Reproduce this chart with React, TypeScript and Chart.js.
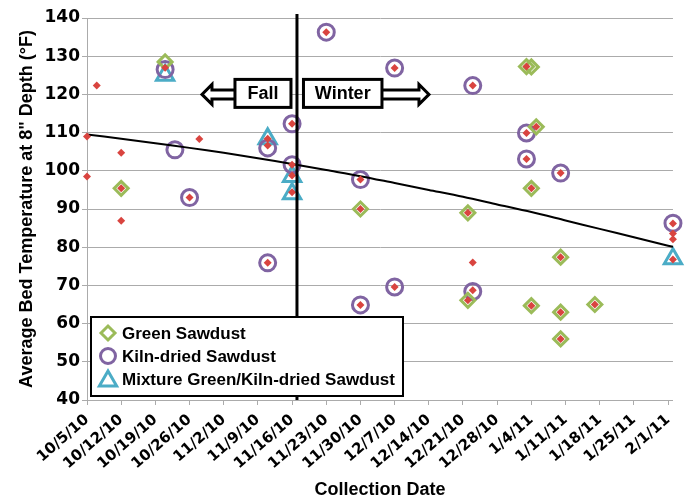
import { useEffect, useRef } from "react";
import { Chart, registerables } from "chart.js";

Chart.register(...registerables);

// ---------- data ----------
const TICK_LABELS = [
  "10/5/10", "10/12/10", "10/19/10", "10/26/10", "11/2/10", "11/9/10",
  "11/16/10", "11/23/10", "11/30/10", "12/7/10", "12/14/10", "12/21/10",
  "12/28/10", "1/4/11", "1/11/11", "1/18/11", "1/25/11", "2/1/11",
];
const AXIS_START = "10/5/10";
const AXIS_END = "2/2/11";
const SEASON_SPLIT = "11/17/10";
const SEASON_LABEL_TEMP = 120;

const GREEN_DATES = [
  "10/12/10", "10/21/10", "11/30/10", "12/22/10", "12/22/10", "1/3/11", "1/4/11",
  "1/5/11", "1/4/11", "1/10/11", "1/4/11", "1/10/11", "1/10/11", "1/17/11",
];
const GREEN_TEMPS = [95.4, 128.5, 90.0, 89.0, 66.1, 127.3, 127.2, 111.5, 95.4, 77.4, 64.7, 63.0, 56.0, 65.0];

const KILN_DATES = [
  "10/21/10", "10/23/10", "10/26/10", "11/11/10", "11/11/10", "11/16/10", "11/16/10",
  "11/23/10", "11/30/10", "11/30/10", "12/7/10", "12/7/10", "12/23/10", "12/23/10",
  "1/3/11", "1/3/11", "1/10/11", "2/2/11",
];
const KILN_TEMPS = [126.5, 105.5, 93.0, 106.0, 75.9, 112.3, 101.6, 136.3, 97.7, 64.9, 126.9, 69.6, 122.3, 68.4, 109.9, 103.1, 99.4, 86.3];

const MIX_DATES = ["10/21/10", "11/11/10", "11/16/10", "11/16/10", "2/2/11"];
const MIX_TEMPS = [125.0, 108.4, 98.5, 94.0, 77.0];

const ALL_DATES = [
  "10/5/10", "10/5/10", "10/7/10", "10/12/10", "10/12/10", "10/12/10", "10/21/10",
  "10/26/10", "10/28/10", "11/11/10", "11/11/10", "11/11/10", "11/16/10", "11/16/10",
  "11/16/10", "11/16/10", "11/23/10", "11/30/10", "11/30/10", "11/30/10", "12/7/10",
  "12/7/10", "12/22/10", "12/22/10", "12/23/10", "12/23/10", "12/23/10", "1/3/11",
  "1/3/11", "1/3/11", "1/4/11", "1/4/11", "1/5/11", "1/10/11", "1/10/11", "1/10/11",
  "1/10/11", "1/17/11", "2/2/11", "2/2/11", "2/2/11", "2/2/11",
];
const ALL_TEMPS = [
  109.0, 98.5, 122.3, 104.7, 95.4, 86.9, 127.0,
  93.0, 108.3, 108.4, 106.6, 75.9, 112.3, 101.6,
  98.8, 94.4, 136.3, 97.7, 90.0, 64.9, 126.9,
  69.6, 89.0, 66.1, 122.3, 76.0, 68.7, 127.3,
  109.9, 103.1, 95.4, 64.7, 111.5, 99.4, 77.4, 63.0,
  56.0, 65.0, 86.2, 83.6, 82.1, 76.8,
];

const TREND_DATES = [...TICK_LABELS, "2/2/11"];
const TREND_TEMPS = [
  109.5, 108.4, 107.2, 106.0, 104.7, 103.3, 101.8, 100.2, 98.6, 96.8,
  95.0, 93.2, 91.2, 89.2, 87.0, 84.8, 82.6, 80.4, 80.1,
];

const LEGEND_LABELS = ["Green Sawdust", "Kiln-dried Sawdust", "Mixture Green/Kiln-dried Sawdust"];

// ---------- helpers ----------
const FONT = "'Liberation Sans', Arial, Helvetica, sans-serif";
const WIDE_FONT = "'DejaVu Sans', 'Liberation Sans', sans-serif";
const GREEN = "#9BBB59";
const PURPLE = "#8064A2";
const BLUE = "#4BACC6";
const RED = "#D9443F";
const GRID = "#ABABAB";

const parseDate = (s: string) => {
  const [m, d, y] = s.split("/").map(Number);
  return Date.UTC(2000 + y, m - 1, d);
};
const toDay = (s: string) => (parseDate(s) - parseDate(AXIS_START)) / 86400000;
const pts = (dates: string[], temps: number[]) => dates.map((d, i) => ({ x: toDay(d), y: temps[i] }));

function drawMarker(ctx: CanvasRenderingContext2D, kind: string, x: number, y: number) {
  ctx.beginPath();
  if (kind === "diamond") {
    const r = 7;
    ctx.moveTo(x - r, y); ctx.lineTo(x, y - r); ctx.lineTo(x + r, y); ctx.lineTo(x, y + r); ctx.closePath();
    ctx.strokeStyle = GREEN;
  } else if (kind === "circle") {
    ctx.arc(x, y, 7.5, 0, Math.PI * 2);
    ctx.strokeStyle = PURPLE;
  } else {
    const r = 10;
    ctx.moveTo(x, y - r); ctx.lineTo(x + r * 0.866, y + r * 0.5); ctx.lineTo(x - r * 0.866, y + r * 0.5); ctx.closePath();
    ctx.strokeStyle = BLUE;
  }
  ctx.lineWidth = 3;
  ctx.lineJoin = "miter";
  ctx.stroke();
}

const overlayPlugin = {
  id: "seasonOverlay",
  afterDraw(chart: any) {
    const { ctx, chartArea, scales } = chart;
    const xs = scales.x;
    const ys = scales.y;
    const lineX = xs.getPixelForValue(toDay(SEASON_SPLIT));
    const cy = ys.getPixelForValue(SEASON_LABEL_TEMP);
    ctx.save();

    // season divider
    ctx.strokeStyle = "#000";
    ctx.lineWidth = 3;
    ctx.beginPath();
    ctx.moveTo(lineX, chartArea.top - 4);
    ctx.lineTo(lineX, chartArea.bottom);
    ctx.stroke();

    // boxes + arrows
    const boxTop = cy - 15;
    const boxBot = cy + 13;
    const fall = { x0: lineX - 62, x1: lineX - 6 };
    const winter = { x0: lineX + 6.5, x1: lineX + 85 };
    const sh = 4.5;
    const hh = 10;
    ctx.lineJoin = "miter";
    ctx.lineWidth = 3;
    ctx.fillStyle = "#fff";
    // left arrow
    ctx.beginPath();
    ctx.moveTo(fall.x0, cy - sh);
    ctx.lineTo(fall.x0 - 23, cy - sh);
    ctx.lineTo(fall.x0 - 23, cy - hh);
    ctx.lineTo(fall.x0 - 33, cy);
    ctx.lineTo(fall.x0 - 23, cy + hh);
    ctx.lineTo(fall.x0 - 23, cy + sh);
    ctx.lineTo(fall.x0, cy + sh);
    ctx.fill();
    ctx.stroke();
    // right arrow
    ctx.beginPath();
    ctx.moveTo(winter.x1, cy - sh);
    ctx.lineTo(winter.x1 + 37, cy - sh);
    ctx.lineTo(winter.x1 + 37, cy - hh);
    ctx.lineTo(winter.x1 + 47, cy);
    ctx.lineTo(winter.x1 + 37, cy + hh);
    ctx.lineTo(winter.x1 + 37, cy + sh);
    ctx.lineTo(winter.x1, cy + sh);
    ctx.fill();
    ctx.stroke();
    for (const b of [fall, winter]) {
      ctx.fillStyle = "#fff";
      ctx.fillRect(b.x0, boxTop, b.x1 - b.x0, boxBot - boxTop);
      ctx.strokeRect(b.x0, boxTop, b.x1 - b.x0, boxBot - boxTop);
    }
    ctx.fillStyle = "#000";
    ctx.font = `bold 18px ${FONT}`;
    ctx.textAlign = "center";
    ctx.textBaseline = "middle";
    ctx.fillText("Fall", (fall.x0 + fall.x1) / 2, (boxTop + boxBot) / 2 + 1);
    ctx.fillText("Winter", (winter.x0 + winter.x1) / 2, (boxTop + boxBot) / 2 + 1);

    // legend
    const lx = chartArea.left + 4;
    const lb = chartArea.bottom - 4;
    const lw = 312;
    const lh = 79;
    const lt = lb - lh;
    ctx.fillStyle = "#fff";
    ctx.fillRect(lx, lt, lw, lh);
    ctx.strokeStyle = "#000";
    ctx.lineWidth = 2;
    ctx.strokeRect(lx, lt, lw, lh);
    const kinds = ["diamond", "circle", "triangle"];
    ctx.font = `bold 17px ${FONT}`;
    ctx.textAlign = "left";
    ctx.textBaseline = "middle";
    LEGEND_LABELS.forEach((label, i) => {
      const ry = lt + 16 + i * 23;
      drawMarker(ctx, kinds[i], lx + 17, ry + (i === 2 ? 2 : 0));
      ctx.fillStyle = "#000";
      ctx.fillText(label, lx + 31, ry + 1);
    });
    ctx.restore();
  },
};

export default function App() {
  const ref = useRef<HTMLCanvasElement | null>(null);

  useEffect(() => {
    if (!ref.current) return;
    const tickDays = TICK_LABELS.map(toDay);
    const chart = new Chart(ref.current, {
      type: "scatter",
      data: {
        datasets: [
          {
            label: "All",
            data: pts(ALL_DATES, ALL_TEMPS),
            pointStyle: "rectRot",
            pointRadius: 4,
            backgroundColor: RED,
            borderColor: RED,
            borderWidth: 0,
            order: 0,
            clip: false,
          },
          {
            label: "Trend",
            data: pts(TREND_DATES, TREND_TEMPS),
            showLine: true,
            pointRadius: 0,
            borderColor: "#000",
            borderWidth: 2,
            tension: 0.3,
            order: 1,
            clip: false,
          },
          {
            label: LEGEND_LABELS[0],
            data: pts(GREEN_DATES, GREEN_TEMPS),
            pointStyle: "rectRot",
            pointRadius: 7,
            borderWidth: 3,
            borderColor: GREEN,
            backgroundColor: "rgba(0,0,0,0)",
            order: 2,
            clip: false,
          },
          {
            label: LEGEND_LABELS[1],
            data: pts(KILN_DATES, KILN_TEMPS),
            pointStyle: "circle",
            pointRadius: 8,
            borderWidth: 3,
            borderColor: PURPLE,
            backgroundColor: "rgba(0,0,0,0)",
            order: 3,
            clip: false,
          },
          {
            label: LEGEND_LABELS[2],
            data: pts(MIX_DATES, MIX_TEMPS),
            pointStyle: "triangle",
            pointRadius: 10,
            borderWidth: 3,
            borderColor: BLUE,
            backgroundColor: "rgba(0,0,0,0)",
            order: 4,
            clip: false,
          },
        ],
      },
      options: {
        animation: false,
        responsive: false,
        events: [],
        layout: { padding: { top: 18, right: 6, left: 0, bottom: 0 } },
        plugins: { legend: { display: false }, tooltip: { enabled: false } },
        scales: {
          x: {
            type: "linear",
            min: 0,
            max: toDay(AXIS_END),
            afterBuildTicks: (scale: any) => {
              scale.ticks = tickDays.map((v) => ({ value: v }));
            },
            afterFit: (scale: any) => {
              scale.height = 102;
            },
            ticks: {
              autoSkip: false,
              maxRotation: 41,
              minRotation: 41,
              padding: 6,
              color: "#000",
              font: { family: WIDE_FONT, size: 15, weight: "bold" },
              callback: (_v: any, i: number) => TICK_LABELS[i],
            },
            grid: { drawOnChartArea: false, drawTicks: true, tickLength: 5, color: GRID },
            border: { color: GRID, width: 1 },
            title: {
              display: true,
              text: "Collection Date",
              color: "#000",
              font: { family: FONT, size: 18, weight: "bold" },
              padding: { top: 0, bottom: 1 },
            },
          },
          y: {
            min: 40,
            max: 140,
            afterFit: (scale: any) => {
              scale.width = 87;
            },
            ticks: {
              stepSize: 10,
              padding: 2,
              color: "#000",
              font: { family: WIDE_FONT, size: 17, weight: "bold" },
            },
            grid: { color: GRID, tickLength: 5 },
            border: { color: GRID, width: 1 },
            title: {
              display: true,
              text: 'Average Bed Temperature at 8" Depth (°F)',
              color: "#000",
              font: { family: FONT, size: 18, weight: "bold" },
              padding: { top: 16, bottom: 0 },
            },
          },
        },
      },
      plugins: [overlayPlugin],
    } as any);
    return () => chart.destroy();
  }, []);

  return (
    <div style={{ position: "fixed", left: 0, top: 0, width: 686, height: 502, background: "#fff" }}>
      <canvas ref={ref} width={686} height={502} style={{ display: "block" }} />
    </div>
  );
}
